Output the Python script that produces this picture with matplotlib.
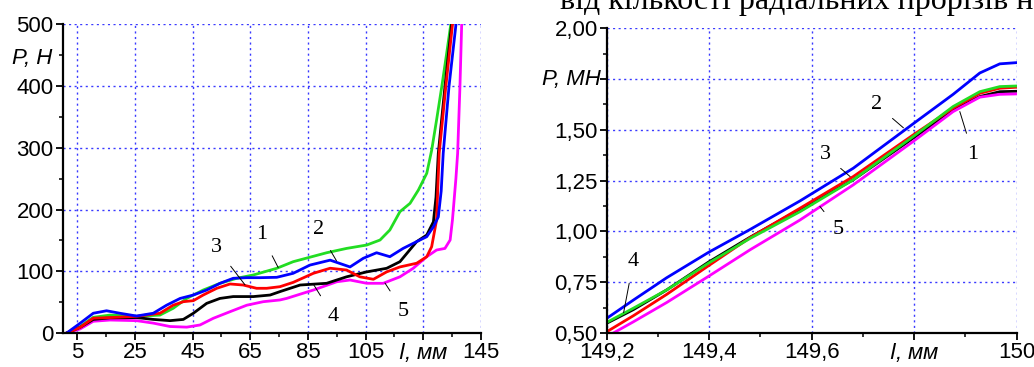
import matplotlib
matplotlib.use("Agg")
import matplotlib.pyplot as plt
from matplotlib.ticker import MultipleLocator, FixedLocator

# ---------- data: left chart (l, mm ; P, N) ----------
l1_x = [1.4, 6, 10.6, 16.4, 25.6, 33.7, 38.3, 43, 48.7, 54.5, 60.3, 66.1, 74.2, 79.9, 91.5, 98.4, 105.4, 110, 113.4, 116.9, 120.4, 123.3, 126.2, 127.9, 129.6, 131.4, 133.1, 134.5, 135]
l1_y = [0, 10.3, 25.4, 29, 27, 29, 40, 56, 69.6, 80.4, 88.6, 94, 104.8, 115.5, 130, 137, 142.5, 150.6, 166.8, 196.5, 210, 231.6, 258.7, 296, 345, 399, 453, 499, 530]

l2_x = [1.4, 6, 10.6, 15.2, 19.8, 25.6, 31.4, 36, 40.7, 45.3, 49.9, 54.5, 59.1, 63.8, 68.4, 74.2, 79.9, 85.7, 92.7, 99.6, 104.2, 108.8, 113.4, 118, 122.7, 126.2, 128.5, 130.2, 131.2, 131.9, 133.9, 136.3, 136.8]
l2_y = [0, 15.7, 32, 36, 32, 27.5, 32, 45, 56, 61.5, 69.6, 80.4, 88.6, 89.6, 89.6, 90.2, 96.7, 110, 118, 107, 121, 130, 123.6, 137, 148, 156, 172, 188, 230, 291, 399, 499, 530]

l3_x = [1.4, 6, 10.6, 16.4, 25.6, 33.7, 38.3, 41.8, 45.3, 48.7, 53.4, 58, 62.6, 67.2, 70.7, 75.3, 79.9, 86.9, 92.7, 98.4, 103, 107.7, 112.3, 116.9, 122.7, 126.2, 127.9, 129.6, 130.5, 132.8, 135.1, 135.6]
l3_y = [0, 9, 24, 25, 27, 32, 45, 50.7, 52.4, 61.5, 72.4, 79.4, 77.7, 72.4, 72.4, 75, 82, 96.7, 104.9, 102, 91, 87, 99, 107, 113, 123.6, 139.8, 183, 291, 399, 499, 530]

l4_x = [1.4, 6, 10.6, 16.4, 25.6, 31.4, 37.2, 41.8, 45.3, 49.9, 54.5, 59.1, 66.1, 71.9, 75.3, 82.3, 91.5, 98.4, 105.4, 112.3, 116.9, 122.7, 126.2, 128.5, 129.4, 130.2, 132.5, 134.8, 135.3]
l4_y = [0, 9, 22, 24.5, 25, 22, 20, 22, 32, 48, 56, 59, 59, 61.5, 67, 77.7, 80.5, 91, 99, 104.8, 115.5, 148, 158.7, 180, 220, 291, 399, 499, 530]

l5_x = [1.4, 6, 10.6, 16.4, 25.6, 31.4, 37.2, 43, 47.6, 52.2, 58, 63.8, 69.5, 75.3, 77.6, 86.9, 95, 99.6, 105.4, 111.1, 116.9, 121.5, 126.2, 129.6, 132.5, 134.3, 135.1, 136.3, 136.9, 137.7, 138.3, 138.6]
l5_y = [0, 6.5, 19, 21, 20, 16, 10.5, 9.5, 13, 23.8, 34.5, 45, 50.7, 53.5, 56, 69.6, 83, 85.8, 80.5, 80.5, 91, 104.8, 123.6, 134.4, 137, 150.6, 183, 250, 291, 399, 499, 530]

# ---------- data: right chart (l, mm ; P, MN) ----------
r_x = [149.2, 149.252, 149.317, 149.398, 149.48, 149.577, 149.681, 149.798, 149.876, 149.928, 149.967, 150.0]
r1_y = [0.552, 0.622, 0.712, 0.843, 0.966, 1.097, 1.254, 1.467, 1.615, 1.688, 1.713, 1.716]   # green (1)
r2_y = [0.572, 0.662, 0.772, 0.896, 1.010, 1.150, 1.311, 1.530, 1.675, 1.780, 1.825, 1.831]   # blue (2)
r3_y = [0.506, 0.585, 0.690, 0.830, 0.970, 1.114, 1.270, 1.475, 1.607, 1.680, 1.705, 1.710]   # red (3)
r4_y = [0.548, 0.615, 0.712, 0.848, 0.972, 1.109, 1.254, 1.459, 1.598, 1.664, 1.688, 1.690]   # black (4)
r5_x = [149.213, 149.252, 149.317, 149.398, 149.48, 149.577, 149.681, 149.798, 149.876, 149.928, 149.967, 150.0]
r5_y = [0.500, 0.555, 0.650, 0.778, 0.910, 1.056, 1.229, 1.443, 1.590, 1.661, 1.675, 1.677]   # magenta (5)

left_xticks = [5, 25, 45, 65, 85, 105, 125, 145]
left_xlabels = ['5', '25', '45', '65', '85', '105', '', '145']
left_yticks = [0, 100, 200, 300, 400, 500]
left_ylabels = ['0', '100', '200', '300', '400', '500']

right_xticks = [149.2, 149.4, 149.6, 149.8, 150.0]
right_xlabels = ['149,2', '149,4', '149,6', '', '150']
right_yticks = [0.50, 0.75, 1.00, 1.25, 1.50, 1.75, 2.00]
right_ylabels = ['0,50', '0,75', '1,00', '1,25', '1,50', '', '2,00']

GREEN = '#22dd22'
BLUE = '#0000ff'
RED = '#ff0000'
BLACK = '#000000'
MAGENTA = '#ff00ff'
GRID = '#3a3aff'

plt.rcParams['font.family'] = ['Liberation Sans', 'DejaVu Sans']

fig = plt.figure(figsize=(10.34, 3.67), dpi=100)
axL = fig.add_axes([62.7/1034, 1-333/367, 418.3/1034, (333-24.3)/367])
axR = fig.add_axes([606.7/1034, 1-333/367, 410/1034, (333-28.3)/367])

FS = 16

def style(ax):
    for s in ['top', 'right']:
        ax.spines[s].set_visible(False)
    for s in ['left', 'bottom']:
        ax.spines[s].set_linewidth(1.6)
    ax.tick_params(which='major', direction='out', length=5, width=1.3, labelsize=FS, pad=1.5)
    ax.tick_params(which='minor', direction='out', length=3, width=1.1)
    ax.grid(True, which='major', color=GRID, linestyle=(0, (1.5, 2.5)), linewidth=1.0)
    ax.set_axisbelow(True)

# left
lw = 2.0
axL.plot(l1_x, l1_y, color=GREEN, lw=lw)
axL.plot(l5_x, l5_y, color=MAGENTA, lw=lw)
axL.plot(l4_x, l4_y, color=BLACK, lw=lw)
axL.plot(l3_x, l3_y, color=RED, lw=lw)
axL.plot(l2_x, l2_y, color=BLUE, lw=lw)
axL.set_xlim(0, 145)
axL.set_ylim(0, 500)
axL.set_xticks(left_xticks)
axL.set_xticklabels(left_xlabels)
axL.set_yticks(left_yticks)
axL.set_yticklabels(left_ylabels)
axL.xaxis.set_minor_locator(FixedLocator([15, 35, 55, 75, 95, 115, 135]))
axL.yaxis.set_minor_locator(MultipleLocator(50))
style(axL)
axL.text(125, -13, r'$\mathit{l}$, мм', ha='center', va='top', fontsize=FS, style='italic')
axL.text(-3.5, 445, 'P, Н', ha='right', va='center', fontsize=FS, style='italic')

ann_kw = dict(fontsize=16, family='Liberation Serif', ha='center', va='center',
              arrowprops=dict(arrowstyle='-', color='black', lw=0.7, shrinkA=7, shrinkB=0))
axL.annotate('1', xy=(74.7, 106), xytext=(68.9, 159), **ann_kw)
axL.annotate('2', xy=(94.9, 117), xytext=(88.6, 167), **ann_kw)
axL.annotate('3', xy=(63.2, 78), xytext=(53.3, 138), **ann_kw)
axL.annotate('4', xy=(86.9, 79), xytext=(93.8, 27), **ann_kw)
axL.annotate('5', xy=(111.7, 81), xytext=(118.1, 35), **ann_kw)

# right
axR.plot(r_x, r4_y, color=BLACK, lw=lw)
axR.plot(r_x, r3_y, color=RED, lw=lw)
axR.plot(r_x, r1_y, color=GREEN, lw=lw)
axR.plot(r_x, r2_y, color=BLUE, lw=lw)
axR.plot(r5_x, r5_y, color=MAGENTA, lw=lw)
axR.set_xlim(149.2, 150.0)
axR.set_ylim(0.5, 2.0)
axR.set_xticks(right_xticks)
axR.set_xticklabels(right_xlabels)
axR.set_yticks(right_yticks)
axR.set_yticklabels(right_ylabels)
axR.xaxis.set_minor_locator(MultipleLocator(0.1))
axR.yaxis.set_minor_locator(MultipleLocator(0.125))
style(axR)
axR.text(149.8, 0.46, r'$\mathit{l}$, мм', ha='center', va='top', fontsize=FS, style='italic')
axR.text(149.188, 1.75, 'P, МН', ha='right', va='center', fontsize=FS, style='italic')

axR.annotate('2', xy=(149.779, 1.51), xytext=(149.727, 1.623), **ann_kw)
axR.annotate('1', xy=(149.889, 1.59), xytext=(149.915, 1.377), **ann_kw)
axR.annotate('3', xy=(149.675, 1.27), xytext=(149.626, 1.377), **ann_kw)
axR.annotate('5', xy=(149.616, 1.123), xytext=(149.652, 1.008), **ann_kw)
axR.annotate('4', xy=(149.233, 0.60), xytext=(149.252, 0.852), **ann_kw)

fig.text(560/1034, 1 - 9/367, 'від кількості радіальних прорізів н', fontsize=23,
         family='Liberation Serif', ha='left', va='baseline')

fig.savefig('out.png', dpi=100)
